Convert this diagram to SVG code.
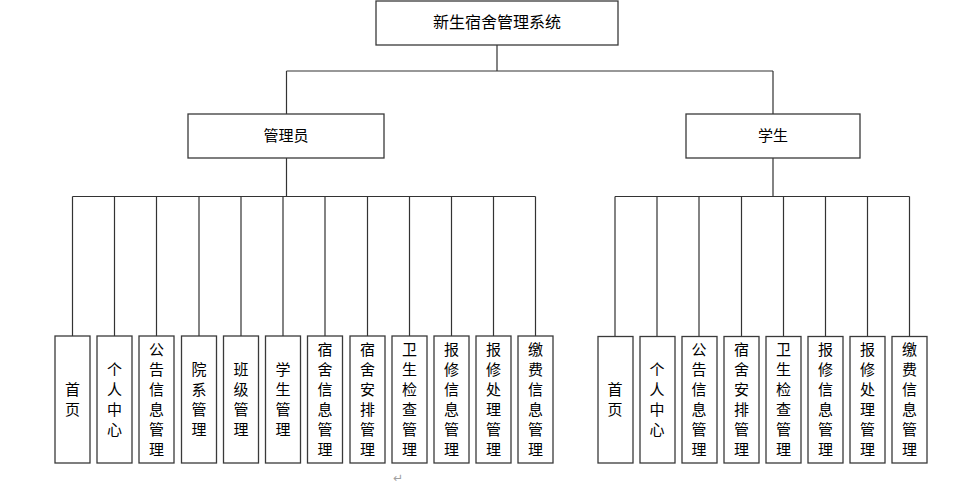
<svg xmlns="http://www.w3.org/2000/svg" width="971" height="487" viewBox="0 0 971 487">
<style>
.box{fill:#fff;stroke:#3a3a3a;stroke-width:1.3}
.ln{fill:none;stroke:#333;stroke-width:1.2}
.t{font-family:"Noto Sans CJK SC","Noto Sans",sans-serif;font-size:15px;fill:#000;text-anchor:middle}
.h{font-size:16px}
</style>
<rect width="971" height="487" fill="#fff"/>
<g id="connectors" class="ln">
<path d="M497 45V71M286.5 71H773M286.5 71V114M773 71V114"/>
<path d="M286.5 158V196.5M72.5 196.5H535.5M72.5 196.5V336M114.5 196.5V336M156.5 196.5V336M199 196.5V336M241 196.5V336M283 196.5V336M325 196.5V336M367.5 196.5V336M409.5 196.5V336M451.5 196.5V336M493.5 196.5V336M535.5 196.5V336"/>
<path d="M773 158V196.5M615 196.5H909.5M615 196.5V336M657 196.5V336M699 196.5V336M741.5 196.5V336M783.5 196.5V336M825.5 196.5V336M867.5 196.5V336M909.5 196.5V336"/>
</g>
<g id="root"><rect class="box" x="376" y="1" width="242" height="44"/><text class="t h" x="497" y="28">新生宿舍管理系统</text></g>
<g id="admin"><rect class="box" x="188" y="114" width="196" height="44"/><text class="t" x="286" y="141">管理员</text></g>
<g id="student"><rect class="box" x="686" y="114" width="174" height="44"/><text class="t" x="773" y="141">学生</text></g>

<g id="a1"><rect class="box" x="55" y="336" width="35" height="127"/><text class="t"><tspan x="72.5" y="395">首</tspan><tspan x="72.5" y="415">页</tspan></text></g>
<g id="a2"><rect class="box" x="97" y="336" width="35" height="127"/><text class="t"><tspan x="114.5" y="375">个</tspan><tspan x="114.5" y="395">人</tspan><tspan x="114.5" y="415">中</tspan><tspan x="114.5" y="435">心</tspan></text></g>
<g id="a3"><rect class="box" x="139" y="336" width="35" height="127"/><text class="t"><tspan x="156.5" y="355">公</tspan><tspan x="156.5" y="375">告</tspan><tspan x="156.5" y="395">信</tspan><tspan x="156.5" y="415">息</tspan><tspan x="156.5" y="435">管</tspan><tspan x="156.5" y="455">理</tspan></text></g>
<g id="a4"><rect class="box" x="181.5" y="336" width="35" height="127"/><text class="t"><tspan x="199" y="375">院</tspan><tspan x="199" y="395">系</tspan><tspan x="199" y="415">管</tspan><tspan x="199" y="435">理</tspan></text></g>
<g id="a5"><rect class="box" x="223.5" y="336" width="35" height="127"/><text class="t"><tspan x="241" y="375">班</tspan><tspan x="241" y="395">级</tspan><tspan x="241" y="415">管</tspan><tspan x="241" y="435">理</tspan></text></g>
<g id="a6"><rect class="box" x="265.5" y="336" width="35" height="127"/><text class="t"><tspan x="283" y="375">学</tspan><tspan x="283" y="395">生</tspan><tspan x="283" y="415">管</tspan><tspan x="283" y="435">理</tspan></text></g>
<g id="a7"><rect class="box" x="307.5" y="336" width="35" height="127"/><text class="t"><tspan x="325" y="355">宿</tspan><tspan x="325" y="375">舍</tspan><tspan x="325" y="395">信</tspan><tspan x="325" y="415">息</tspan><tspan x="325" y="435">管</tspan><tspan x="325" y="455">理</tspan></text></g>
<g id="a8"><rect class="box" x="350" y="336" width="35" height="127"/><text class="t"><tspan x="367.5" y="355">宿</tspan><tspan x="367.5" y="375">舍</tspan><tspan x="367.5" y="395">安</tspan><tspan x="367.5" y="415">排</tspan><tspan x="367.5" y="435">管</tspan><tspan x="367.5" y="455">理</tspan></text></g>
<g id="a9"><rect class="box" x="392" y="336" width="35" height="127"/><text class="t"><tspan x="409.5" y="355">卫</tspan><tspan x="409.5" y="375">生</tspan><tspan x="409.5" y="395">检</tspan><tspan x="409.5" y="415">查</tspan><tspan x="409.5" y="435">管</tspan><tspan x="409.5" y="455">理</tspan></text></g>
<g id="a10"><rect class="box" x="434" y="336" width="35" height="127"/><text class="t"><tspan x="451.5" y="355">报</tspan><tspan x="451.5" y="375">修</tspan><tspan x="451.5" y="395">信</tspan><tspan x="451.5" y="415">息</tspan><tspan x="451.5" y="435">管</tspan><tspan x="451.5" y="455">理</tspan></text></g>
<g id="a11"><rect class="box" x="476" y="336" width="35" height="127"/><text class="t"><tspan x="493.5" y="355">报</tspan><tspan x="493.5" y="375">修</tspan><tspan x="493.5" y="395">处</tspan><tspan x="493.5" y="415">理</tspan><tspan x="493.5" y="435">管</tspan><tspan x="493.5" y="455">理</tspan></text></g>
<g id="a12"><rect class="box" x="518" y="336" width="35" height="127"/><text class="t"><tspan x="535.5" y="355">缴</tspan><tspan x="535.5" y="375">费</tspan><tspan x="535.5" y="395">信</tspan><tspan x="535.5" y="415">息</tspan><tspan x="535.5" y="435">管</tspan><tspan x="535.5" y="455">理</tspan></text></g>

<g id="s1"><rect class="box" x="598" y="336.5" width="35" height="126.5"/><text class="t"><tspan x="615" y="395">首</tspan><tspan x="615" y="415">页</tspan></text></g>
<g id="s2"><rect class="box" x="640" y="336.5" width="35" height="126.5"/><text class="t"><tspan x="657" y="375">个</tspan><tspan x="657" y="395">人</tspan><tspan x="657" y="415">中</tspan><tspan x="657" y="435">心</tspan></text></g>
<g id="s3"><rect class="box" x="682" y="336.5" width="35" height="126.5"/><text class="t"><tspan x="699" y="355">公</tspan><tspan x="699" y="375">告</tspan><tspan x="699" y="395">信</tspan><tspan x="699" y="415">息</tspan><tspan x="699" y="435">管</tspan><tspan x="699" y="455">理</tspan></text></g>
<g id="s4"><rect class="box" x="724" y="336.5" width="35" height="126.5"/><text class="t"><tspan x="741.5" y="355">宿</tspan><tspan x="741.5" y="375">舍</tspan><tspan x="741.5" y="395">安</tspan><tspan x="741.5" y="415">排</tspan><tspan x="741.5" y="435">管</tspan><tspan x="741.5" y="455">理</tspan></text></g>
<g id="s5"><rect class="box" x="766" y="336.5" width="35" height="126.5"/><text class="t"><tspan x="783.5" y="355">卫</tspan><tspan x="783.5" y="375">生</tspan><tspan x="783.5" y="395">检</tspan><tspan x="783.5" y="415">查</tspan><tspan x="783.5" y="435">管</tspan><tspan x="783.5" y="455">理</tspan></text></g>
<g id="s6"><rect class="box" x="808" y="336.5" width="35" height="126.5"/><text class="t"><tspan x="825.5" y="355">报</tspan><tspan x="825.5" y="375">修</tspan><tspan x="825.5" y="395">信</tspan><tspan x="825.5" y="415">息</tspan><tspan x="825.5" y="435">管</tspan><tspan x="825.5" y="455">理</tspan></text></g>
<g id="s7"><rect class="box" x="850" y="336.5" width="35" height="126.5"/><text class="t"><tspan x="867.5" y="355">报</tspan><tspan x="867.5" y="375">修</tspan><tspan x="867.5" y="395">处</tspan><tspan x="867.5" y="415">理</tspan><tspan x="867.5" y="435">管</tspan><tspan x="867.5" y="455">理</tspan></text></g>
<g id="s8"><rect class="box" x="892" y="336.5" width="35" height="126.5"/><text class="t"><tspan x="909.5" y="355">缴</tspan><tspan x="909.5" y="375">费</tspan><tspan x="909.5" y="395">信</tspan><tspan x="909.5" y="415">息</tspan><tspan x="909.5" y="435">管</tspan><tspan x="909.5" y="455">理</tspan></text></g>

<text x="398" y="482" font-family="DejaVu Sans,sans-serif" font-size="12" fill="#a0a0a0" text-anchor="middle">↵</text>
</svg>
